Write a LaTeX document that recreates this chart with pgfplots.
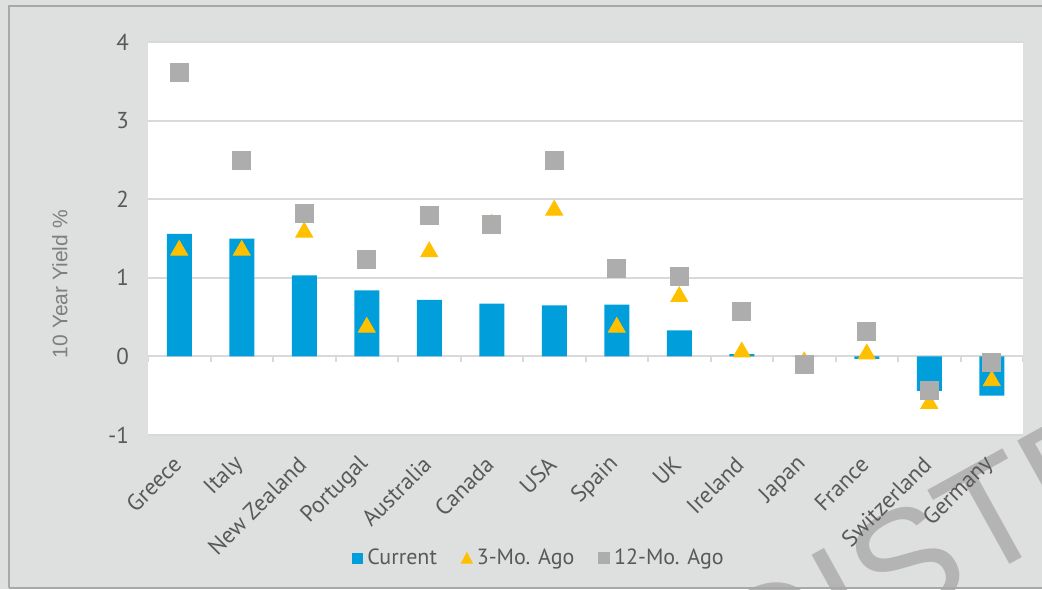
\documentclass[border=0pt]{standalone}
\usepackage{fontspec}
\setmainfont{PT Sans}
\newfontfamily\arialf{Liberation Sans}
\usepackage{pgfplots}
\pgfplotsset{compat=1.18}
\definecolor{bgc}{HTML}{DEDFDF}
\definecolor{cblue}{HTML}{009FDB}
\definecolor{cgold}{HTML}{FFC000}
\definecolor{cgray}{HTML}{ADADAD}
\definecolor{gridc}{HTML}{D9D9D9}
\definecolor{txt}{HTML}{595959}
\definecolor{ylab}{HTML}{7F7F7F}
\definecolor{wm}{HTML}{B4B4B4}
\definecolor{frame}{HTML}{A8A8A8}
\begin{document}
\begin{tikzpicture}
\useasboundingbox (0,0) rectangle (521pt,294.5pt);
\fill[bgc] (0,0) rectangle (521pt,294.5pt);
\begin{scope}
\clip (0,0) rectangle (521pt,294.5pt);
\node[anchor=base west, rotate=29, inner sep=0pt, text=wm, font=\arialf\fontsize{76}{80}\selectfont] at (377pt,-59pt) {DISTRIBUTION};
\draw[frame, line width=0.8pt] (4.5pt,0.5pt) -- (4.5pt,291.5pt) -- (530pt,291.5pt);
\draw[frame, line width=0.8pt] (4.5pt,0.5pt) -- (530pt,0.5pt);
\end{scope}
\begin{axis}[
  at={(74pt,77pt)}, anchor=south west,
  scale only axis, width=437.5pt, height=196.5pt,
  xmin=-0.5, xmax=13.5, ymin=-1, ymax=4,
  axis background/.style={fill=white},
  axis line style={draw=none},
  ytick={-1,0,1,2,3,4},
  ymajorgrids, grid style={gridc, line width=1pt},
  major tick length=0pt,
  xtick={0,...,13},
  xticklabels={Greece,Italy,New Zealand,Portugal,Australia,Canada,USA,Spain,UK,Ireland,Japan,France,Switzerland,Germany},
  ticklabel style={font=\fontsize{11.5}{13}\selectfont, text=txt},
  /pgf/number format/assume math mode=true,
  yticklabel style={xshift=-6pt},
  xticklabel shift=9pt,
  xticklabel style={rotate=45, anchor=east, yshift=-2pt},
  ylabel={10 Year Yield \%},
  ylabel style={at={(axis description cs:-0.1006,0.384)}, anchor=center, font=\arialf\fontsize{10.5}{12}\selectfont, text=ylab},
  legend style={at={(axis description cs:0.448,-0.313)}, anchor=center, draw=none, fill=none,
    legend columns=3, font=\fontsize{11}{13}\selectfont, text=txt,
    /tikz/every even column/.append style={column sep=10pt}},
]
\addplot[ybar, bar width=12.5pt, fill=cblue, draw=none,
  legend image code/.code={\fill[cblue] (0pt,-2.75pt) rectangle (5.5pt,2.75pt);}]
  coordinates {(0,1.56) (1,1.50) (2,1.03) (3,0.84) (4,0.72) (5,0.67) (6,0.65) (7,0.66) (8,0.33) (9,0.03) (10,0.0) (11,-0.03) (12,-0.44) (13,-0.50)};
\addlegendentry{Current}
\addplot[only marks, mark=triangle*, mark size=4.9pt, color=cgold,
  legend image code/.code={\fill[cgold] (0pt,-2.6pt) -- (5.5pt,-2.6pt) -- (2.75pt,2.6pt) -- cycle;}]
  coordinates {(0,1.35) (1,1.35) (2,1.58) (3,0.37) (4,1.33) (5,1.68) (6,1.86) (7,0.37) (8,0.76) (9,0.055) (10,-0.07) (11,0.03) (12,-0.60) (13,-0.31)};
\addlegendentry{3-Mo. Ago}
\addplot[only marks, mark=square*, mark size=4.5pt, color=cgray,
  legend image code/.code={\fill[cgray] (0pt,-2.75pt) rectangle (5.5pt,2.75pt);}]
  coordinates {(0,3.61) (1,2.50) (2,1.82) (3,1.24) (4,1.79) (5,1.68) (6,2.50) (7,1.12) (8,1.02) (9,0.57) (10,-0.10) (11,0.32) (12,-0.43) (13,-0.07)};
\addlegendentry{12-Mo. Ago}
\pgfplotsinvokeforeach{-0.5,0.5,1.5,2.5,3.5,4.5,5.5,6.5,7.5,8.5,9.5,10.5,11.5,12.5,13.5}{
  \draw[gridc, line width=1pt] (axis cs:#1,0) -- ([yshift=-3pt]axis cs:#1,0);
}
\end{axis}
\end{tikzpicture}
\end{document}
